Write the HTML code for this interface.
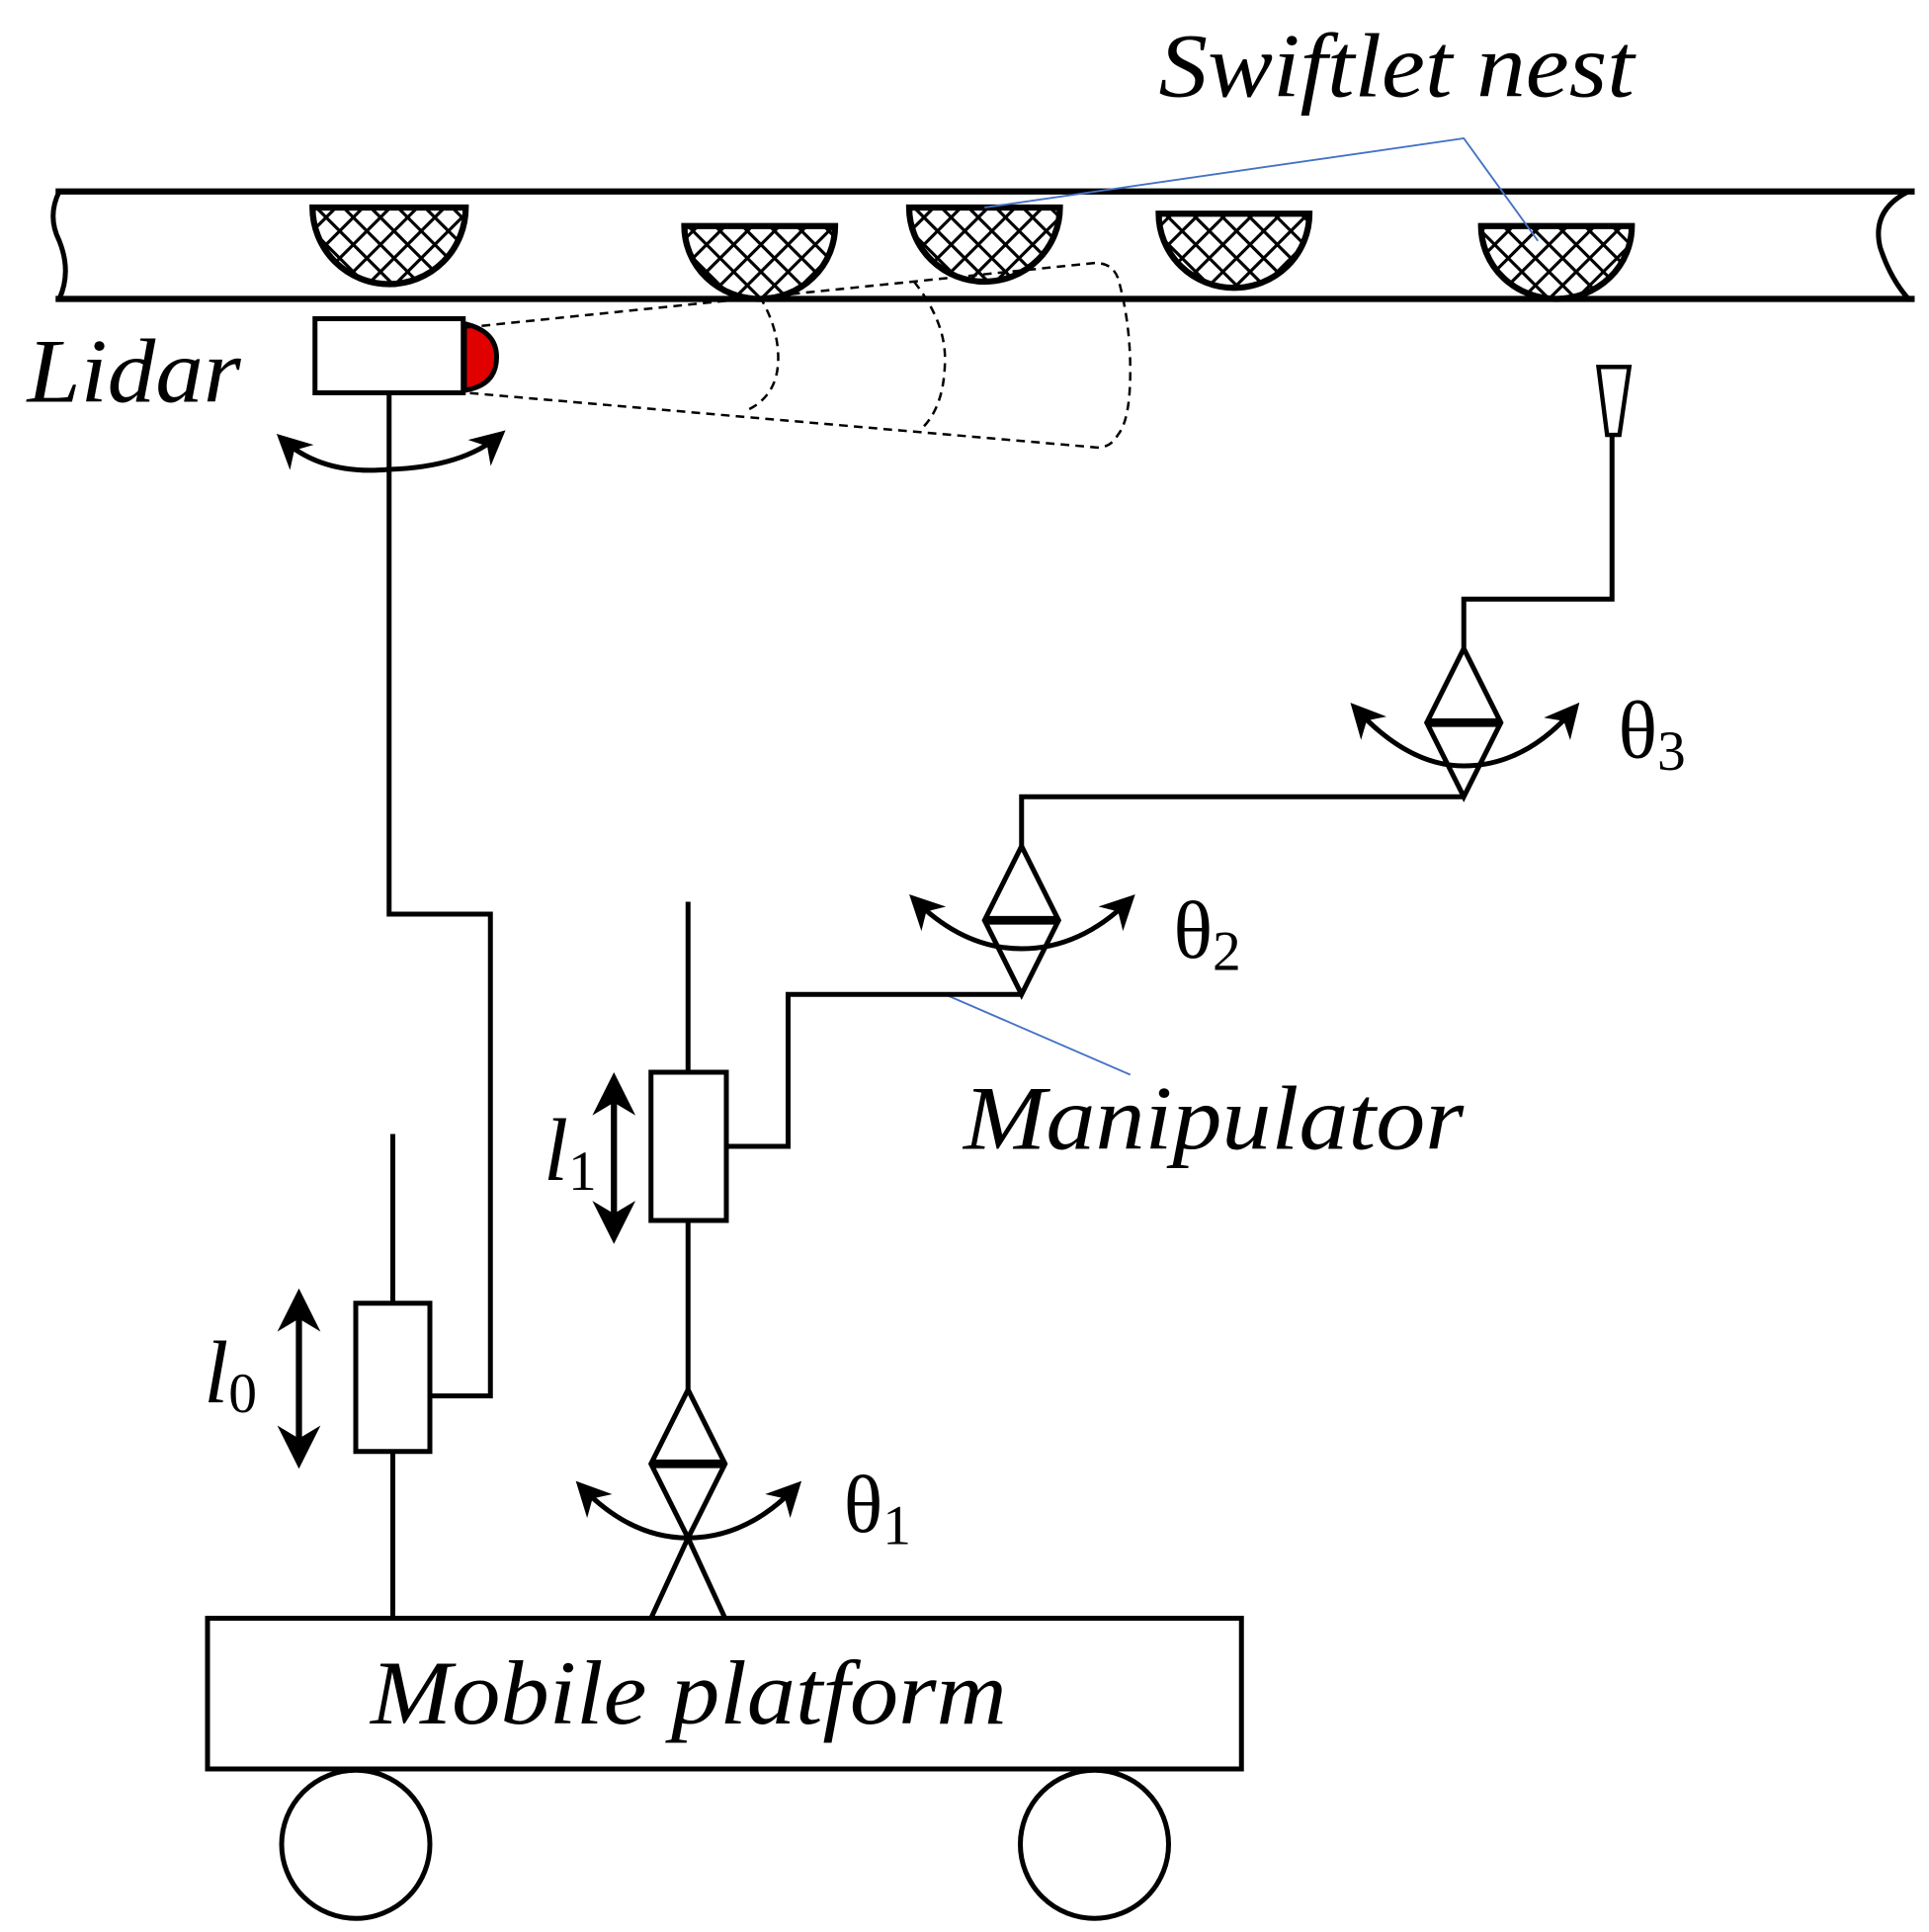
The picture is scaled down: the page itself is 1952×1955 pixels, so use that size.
<!DOCTYPE html>
<html><head><meta charset="utf-8"><style>html,body{margin:0;padding:0;background:#fff}svg{display:block}</style></head>
<body>
<svg width="1952" height="1955" viewBox="0 0 1561.6 1564" xmlns="http://www.w3.org/2000/svg">
<defs>
<pattern id="hx" width="22" height="22" patternUnits="userSpaceOnUse">
<rect width="22" height="22" fill="#fff"/>
<path d="M0 0L22 22M22 0L0 22" stroke="#000" stroke-width="2.5"/>
</pattern>
<marker id="ah" viewBox="0 0 10 10" refX="8" refY="5" markerWidth="7" markerHeight="7" orient="auto-start-reverse"><path d="M0 0L10 5L0 10L3 5Z" fill="#000"/></marker>
</defs>
<g fill="none" stroke="#000" stroke-width="5">
<line x1="45" y1="155" x2="1550" y2="155"/>
<line x1="45" y1="242" x2="1550" y2="242"/>
<path d="M48 155 Q38 175 48 195 Q58 220 48 242" stroke-width="4"/>
<path d="M1545 155 Q1515 170 1522 200 Q1530 225 1545 242" stroke-width="4"/>
</g>
<g stroke="#000" stroke-width="5" fill="url(#hx)">
<path d="M253 168 H377 A62 62 0 0 1 253 168Z"/>
<path d="M554 183 H676 A61 59 0 0 1 554 183Z"/>
<path d="M736 168 H858 A61 60 0 0 1 736 168Z"/>
<path d="M938 173 H1060 A61 60 0 0 1 938 173Z"/>
<path d="M1199 183 H1321 A61 59 0 0 1 1199 183Z"/>
</g>
<g stroke="#4472C4" stroke-width="1.5" fill="none">
<polyline points="797,168 1185,112 1245,195"/>
<line x1="765" y1="805" x2="915" y2="870"/>
</g>
<path d="M376 262 Q402 268 402 289 Q402 312 376 316Z" fill="#e00000" stroke="#000" stroke-width="4"/>
<rect x="255" y="258" width="120" height="60" fill="#fff" stroke="#000" stroke-width="4"/>
<g fill="none" stroke="#000" stroke-width="2" stroke-dasharray="7,5">
<path d="M378 265 L885 213 Q900 212 905 225 Q915 260 915 300 Q915 340 905 352 Q898 364 885 362 L378 318"/>
<path d="M615 240 Q630 265 630 290 Q630 320 605 332"/>
<path d="M740 228 Q765 260 765 290 Q765 330 745 348"/>
</g>
<g fill="none" stroke="#000" stroke-width="4">
<path d="M228 355 Q260 385 315 380 Q375 378 405 352" marker-start="url(#ah)" marker-end="url(#ah)"/>
<polyline points="315,318 315,740 397,740 397,1130 350,1130"/>
<line x1="318" y1="918" x2="318" y2="1055"/>
<line x1="318" y1="1175" x2="318" y2="1310"/>
<rect x="288" y="1055" width="60" height="120"/>
<rect x="168" y="1310" width="837" height="122"/>
<circle cx="288" cy="1493" r="60"/>
<circle cx="886" cy="1493" r="60"/>
<line x1="557" y1="988" x2="557" y2="1125"/>
<path d="M557 1125 L527 1185 L557 1245 L587 1185Z"/>
<line x1="527" y1="1185" x2="587" y2="1185" stroke-width="7"/>
<polyline points="527,1310 557,1245 587,1310"/>
<path d="M470 1203 Q510 1245 557 1245 Q605 1245 645 1203" marker-start="url(#ah)" marker-end="url(#ah)"/>
<rect x="527" y="868" width="61" height="120"/>
<line x1="557" y1="868" x2="557" y2="730"/>
<polyline points="588,928 638,928 638,805 827,805"/>
<path d="M827 685 L797 745 L827 805 L857 745Z"/>
<line x1="797" y1="745" x2="857" y2="745" stroke-width="7"/>
<path d="M740 728 Q780 768 827 768 Q875 768 915 728" marker-start="url(#ah)" marker-end="url(#ah)"/>
<polyline points="827,685 827,645 1185,645"/>
<path d="M1185 525 L1155 585 L1185 645 L1215 585Z"/>
<line x1="1155" y1="585" x2="1215" y2="585" stroke-width="7"/>
<path d="M1097 573 Q1140 620 1185 620 Q1235 620 1275 573" marker-start="url(#ah)" marker-end="url(#ah)"/>
<polyline points="1185,525 1185,485 1305,485 1305,352"/>
<path d="M1294 297 H1319 L1311 352 H1301Z" stroke-width="3.5"/>
<line x1="497" y1="875" x2="497" y2="1000" stroke-width="5" marker-start="url(#ah)" marker-end="url(#ah)"/>
<line x1="242" y1="1050" x2="242" y2="1182" stroke-width="5" marker-start="url(#ah)" marker-end="url(#ah)"/>
</g>
<g font-family="Liberation Serif, serif" fill="#000">
<text x="938" y="78" font-size="74" font-style="italic" textLength="385" lengthAdjust="spacingAndGlyphs">Swiftlet nest</text>
<text x="22" y="325" font-size="74" font-style="italic" textLength="173" lengthAdjust="spacingAndGlyphs">Lidar</text>
<text x="780" y="930" font-size="74" font-style="italic" textLength="405" lengthAdjust="spacingAndGlyphs">Manipulator</text>
<text x="300" y="1395" font-size="74" font-style="italic" textLength="515" lengthAdjust="spacingAndGlyphs">Mobile platform</text>
<text x="440" y="955" font-size="72" font-style="italic">l<tspan font-style="normal" font-size="46" dy="8">1</tspan></text>
<text x="165" y="1135" font-size="72" font-style="italic">l<tspan font-style="normal" font-size="46" dy="8">0</tspan></text>
<text x="683" y="1240" font-size="66">θ<tspan font-size="46" dy="10">1</tspan></text>
<text x="950" y="775" font-size="66">θ<tspan font-size="46" dy="10">2</tspan></text>
<text x="1310" y="613" font-size="66">θ<tspan font-size="46" dy="10">3</tspan></text>
</g>
</svg>
</body></html>
